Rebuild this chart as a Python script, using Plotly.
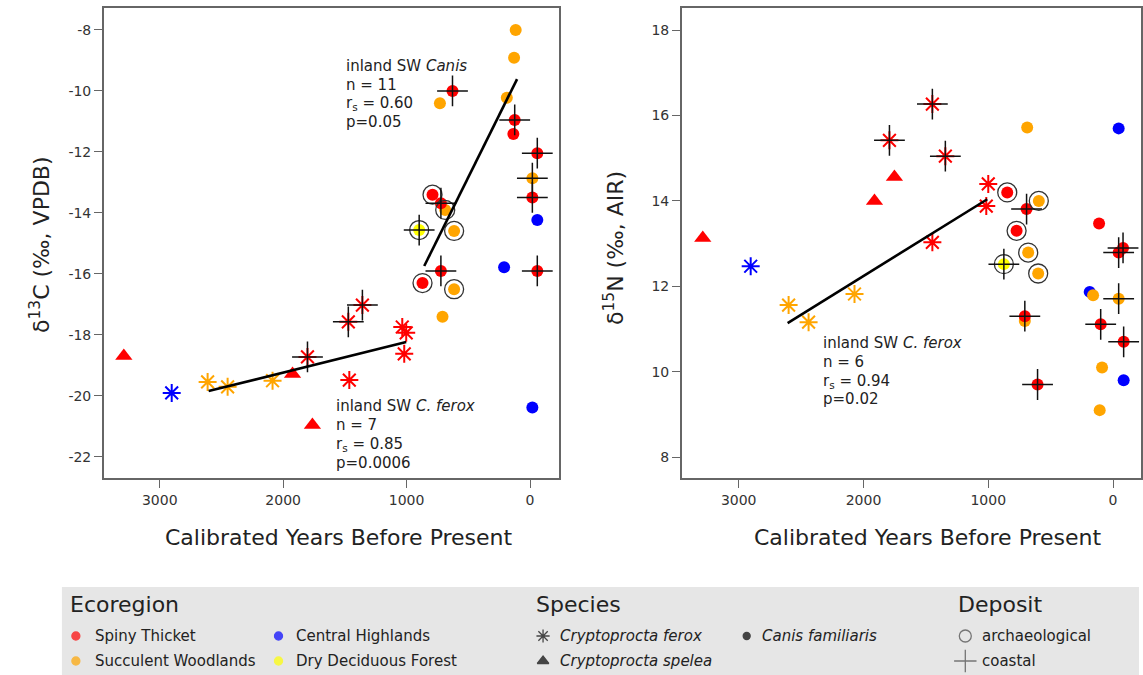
import plotly.graph_objects as go

W, H = 1143, 675

# ---------------- data: delta13C panel ----------------
c13_age = [2903, 2612, 2450, 2086, 1803, 1472, 1358, 1464, 1035, 1003, 1019,
           3291, 1924, 1763,
           116, 129, 730, 188, 687, 615, 615, 709, -19,
           628, 124, 135, -59, -19, 790, 722, 722, 871, -59,
           -59, 210, -19,
           898]
c13_val = [-19.90, -19.54, -19.70, -19.50, -18.72, -17.57, -17.02, -19.48, -17.74, -17.93, -18.62,
           -18.69, -19.28, -20.95,
           -8.00, -8.91, -10.40, -10.22, -13.90, -14.59, -16.50, -17.40, -12.86,
           -10.00, -10.95, -11.41, -12.04, -13.49, -13.40, -13.68, -15.90, -16.30, -15.90,
           -14.23, -15.78, -20.38,
           -14.56]
c13_eco = ["CH", "SW", "SW", "SW", "ST", "ST", "ST", "ST", "ST", "ST", "ST",
           "ST", "ST", "ST",
           "SW", "SW", "SW", "SW", "SW", "SW", "SW", "SW", "SW",
           "ST", "ST", "ST", "ST", "ST", "ST", "ST", "ST", "ST", "ST",
           "CH", "CH", "CH",
           "DD"]
c13_taxon = ["ferox"] * 11 + ["spelea"] * 3 + ["canis"] * 23
c13_arch = [0] * 14 + [0, 0, 0, 0, 1, 1, 1, 0, 0,
                       0, 0, 0, 0, 0, 1, 0, 0, 1, 0,
                       0, 0, 0,
                       1]
c13_coastal = [0, 0, 0, 0, 1, 1, 1, 0, 0, 0, 0,
               0, 0, 0,
               0, 0, 0, 0, 0, 0, 0, 0, 1,
               1, 1, 0, 1, 1, 0, 1, 1, 0, 1,
               0, 0, 0,
               1]

# ---------------- data: delta15N panel ----------------
n15_age = [2904, 2600, 2440, 2072, 1792, 1448, 1344, 1448, 1000, 1016,
           3288, 1912, 1752,
           688, 595, 680, 600, 160, -45, 707, 88, 107,
           848, 693, 773, 112, -80, -45, 707, 99, -85, 605,
           -45, 187, -85,
           875]
n15_val = [12.47, 11.56, 11.16, 11.82, 15.42, 16.27, 15.05, 13.03, 14.40, 13.88,
           13.13, 14.00, 14.56,
           15.72, 14.00, 12.79, 12.30, 11.79, 11.71, 11.19, 10.10, 9.10,
           14.20, 13.81, 13.30, 13.47, 12.90, 12.79, 11.30, 11.11, 10.70, 9.70,
           15.70, 11.87, 9.80,
           12.52]
n15_eco = ["CH", "SW", "SW", "SW", "ST", "ST", "ST", "ST", "ST", "ST",
           "ST", "ST", "ST",
           "SW", "SW", "SW", "SW", "SW", "SW", "SW", "SW", "SW",
           "ST", "ST", "ST", "ST", "ST", "ST", "ST", "ST", "ST", "ST",
           "CH", "CH", "CH",
           "DD"]
n15_taxon = ["ferox"] * 10 + ["spelea"] * 3 + ["canis"] * 23
n15_arch = [0] * 13 + [0, 1, 1, 1, 0, 0, 0, 0, 0,
                       1, 0, 1, 0, 0, 0, 0, 0, 0, 0,
                       0, 0, 0,
                       1]
n15_coastal = [0, 0, 0, 0, 1, 1, 1, 0, 0, 0,
               0, 0, 0,
               0, 0, 0, 0, 0, 1, 0, 0, 0,
               0, 1, 0, 0, 1, 1, 1, 1, 1, 1,
               0, 0, 0,
               1]

# regression lines
c13_ferox_fit_age = [2604, 1003]
c13_ferox_fit_val = [-19.84, -18.23]
c13_canis_fit_age = [857, 105]
c13_canis_fit_val = [-15.74, -9.61]
n15_ferox_fit_age = [2608, 1008]
n15_ferox_fit_val = [11.14, 14.04]

c13_ticks = [-8, -10, -12, -14, -16, -18, -20, -22]
n15_ticks = [8, 10, 12, 14, 16, 18]
age_ticks = [3000, 2000, 1000, 0]

eco_colors = {"ST": "#ff0000", "SW": "#ffa500", "CH": "#0000ff", "DD": "#ffff00"}
FONT = "DejaVu Sans, Verdana, sans-serif"

fig = go.Figure()


def add_panel(age, val, eco, taxon, arch, coastal, xa, ya):
    n = len(age)
    for tx in ["spelea", "ferox", "canis"]:
        for e in ["CH", "SW", "ST", "DD"]:
            idx = [i for i in range(n) if taxon[i] == tx and eco[i] == e]
            if not idx:
                continue
            xs = [age[i] for i in idx]
            ys = [val[i] for i in idx]
            col = eco_colors[e]
            if tx == "ferox":
                mk = dict(symbol="asterisk-open", size=15, color=col,
                          line=dict(color=col, width=2))
            elif tx == "spelea":
                mk = dict(symbol="triangle-up", size=15, color=col, line=dict(width=0))
            else:
                mk = dict(symbol="circle", size=12, color=col, line=dict(width=0))
            fig.add_trace(go.Scatter(x=xs, y=ys, mode="markers", marker=mk,
                                     xaxis=xa, yaxis=ya, showlegend=False,
                                     hoverinfo="skip"))
    idx = [i for i in range(n) if arch[i]]
    fig.add_trace(go.Scatter(x=[age[i] for i in idx], y=[val[i] for i in idx],
                             mode="markers",
                             marker=dict(symbol="circle-open", size=19, color="#333333",
                                         line=dict(color="#333333", width=1.3)),
                             xaxis=xa, yaxis=ya, showlegend=False, hoverinfo="skip"))
    idx = [i for i in range(n) if coastal[i]]
    fig.add_trace(go.Scatter(x=[age[i] for i in idx], y=[val[i] for i in idx],
                             mode="markers",
                             marker=dict(symbol="cross-thin-open", size=22, color="#111111",
                                         line=dict(color="#111111", width=1.5)),
                             xaxis=xa, yaxis=ya, showlegend=False, hoverinfo="skip"))


add_panel(c13_age, c13_val, c13_eco, c13_taxon, c13_arch, c13_coastal, "x", "y")
add_panel(n15_age, n15_val, n15_eco, n15_taxon, n15_arch, n15_coastal, "x2", "y2")

for fa, fv, xa, ya in [(c13_ferox_fit_age, c13_ferox_fit_val, "x", "y"),
                       (c13_canis_fit_age, c13_canis_fit_val, "x", "y"),
                       (n15_ferox_fit_age, n15_ferox_fit_val, "x2", "y2")]:
    fig.add_trace(go.Scatter(x=fa, y=fv, mode="lines", line=dict(color="black", width=2.6),
                             xaxis=xa, yaxis=ya, showlegend=False, hoverinfo="skip"))

# ---------------- legend markers (pixel axis) ----------------
leg_x = [76, 76, 279, 279, 544, 544, 748, 967, 967]
leg_y = [636, 661, 636, 661, 636, 661, 636, 636, 661]
leg_sym = ["circle", "circle", "circle", "circle", "asterisk-open", "triangle-up", "circle",
           "circle-open", "cross-thin-open"]
leg_col = ["#ff0000", "#ffa500", "#0000ff", "#ffff00", "#000000", "#000000", "#000000",
           "#444444", "#444444"]
leg_size = [8, 8, 8, 8, 11, 10, 7, 12, 16]
fig.add_trace(go.Scatter(x=leg_x, y=leg_y, mode="markers",
                         marker=dict(symbol=leg_sym, size=leg_size, color=leg_col,
                                     line=dict(color=leg_col, width=1.3)),
                         xaxis="x3", yaxis="y3", showlegend=False, hoverinfo="skip"))


def px(x):
    return x / W


def py(y):
    return 1 - y / H


ann = []


def txt(x, y, s, size=14, xanchor="left", angle=0, color="#222222"):
    ann.append(dict(x=px(x), y=py(y), xref="paper", yref="paper", text=s, showarrow=False,
                    xanchor=xanchor, yanchor="middle", textangle=angle,
                    font=dict(family=FONT, size=size, color=color)))


# stats annotations
for i, s in enumerate(["inland SW <i>Canis</i>", "n = 11", "r<sub>s</sub> = 0.60", "p=0.05"]):
    txt(345, [66, 85, 103, 122][i], s, size=15)
for i, s in enumerate(["inland SW <i>C. ferox</i>", "n = 7", "r<sub>s</sub> = 0.85", "p=0.0006"]):
    txt(335, [406, 425, 444, 463][i], s, size=15)
for i, s in enumerate(["inland SW <i>C. ferox</i>", "n = 6", "r<sub>s</sub> = 0.94", "p=0.02"]):
    txt(822, [343, 362, 381, 399][i], s, size=15)

# axis titles
txt(340, 537, "Calibrated Years Before Present", size=22, xanchor="center")
txt(930, 537, "Calibrated Years Before Present", size=22, xanchor="center")
txt(40, 245, "δ<sup>13</sup>C (‰, VPDB)", size=22, xanchor="center", angle=-90)
txt(615, 248, "δ<sup>15</sup>N (‰, AIR)", size=22, xanchor="center", angle=-90)

# legend text
txt(68, 604, "Ecoregion", size=22)
txt(535, 604, "Species", size=22)
txt(958, 604, "Deposit", size=22)
txt(93, 636, "Spiny Thicket", size=15)
txt(93, 661, "Succulent Woodlands", size=15)
txt(295, 636, "Central Highlands", size=15)
txt(295, 661, "Dry Deciduous Forest", size=15)
txt(559, 636, "<i>Cryptoprocta ferox</i>", size=15)
txt(559, 661, "<i>Cryptoprocta spelea</i>", size=15)
txt(761, 636, "<i>Canis familiaris</i>", size=15)
txt(982, 636, "archaeological", size=15)
txt(982, 661, "coastal", size=15)

axis_common = dict(showgrid=False, zeroline=False, showline=True, linecolor="#666666",
                   linewidth=1.5, mirror=True, ticks="outside", ticklen=8,
                   tickcolor="#666666", tickwidth=1.2,
                   tickfont=dict(family=FONT, size=14, color="#333333"))

fig.update_layout(
    width=W, height=H,
    margin=dict(l=0, r=0, t=0, b=0),
    paper_bgcolor="white", plot_bgcolor="rgba(0,0,0,0)",
    showlegend=False,
    xaxis=dict(domain=[px(104), px(560)], range=[3453, -235], anchor="y",
               tickvals=age_ticks, ticktext=[str(t) for t in age_ticks], **axis_common),
    yaxis=dict(domain=[py(478), py(8)], range=[-22.69, -7.28], anchor="x",
               tickvals=c13_ticks, ticktext=[str(t) for t in c13_ticks], **axis_common),
    xaxis2=dict(domain=[px(683), 1.0], range=[3456, -224], anchor="y2",
                tickvals=age_ticks, ticktext=[str(t) for t in age_ticks], **axis_common),
    yaxis2=dict(domain=[py(478), py(8)], range=[7.51, 18.52], anchor="x2",
                tickvals=n15_ticks, ticktext=[str(t) for t in n15_ticks], **axis_common),
    xaxis3=dict(domain=[0, 1], range=[0, W], visible=False, anchor="y3", fixedrange=True),
    yaxis3=dict(domain=[0, 1], range=[H, 0], visible=False, anchor="x3", fixedrange=True),
    shapes=[dict(type="rect", xref="paper", yref="paper", x0=px(62), x1=px(1141),
                 y0=0, y1=py(587), fillcolor="#e6e6e6", line=dict(width=0), layer="below")],
    annotations=ann,
)

fig.write_html("out.html")
